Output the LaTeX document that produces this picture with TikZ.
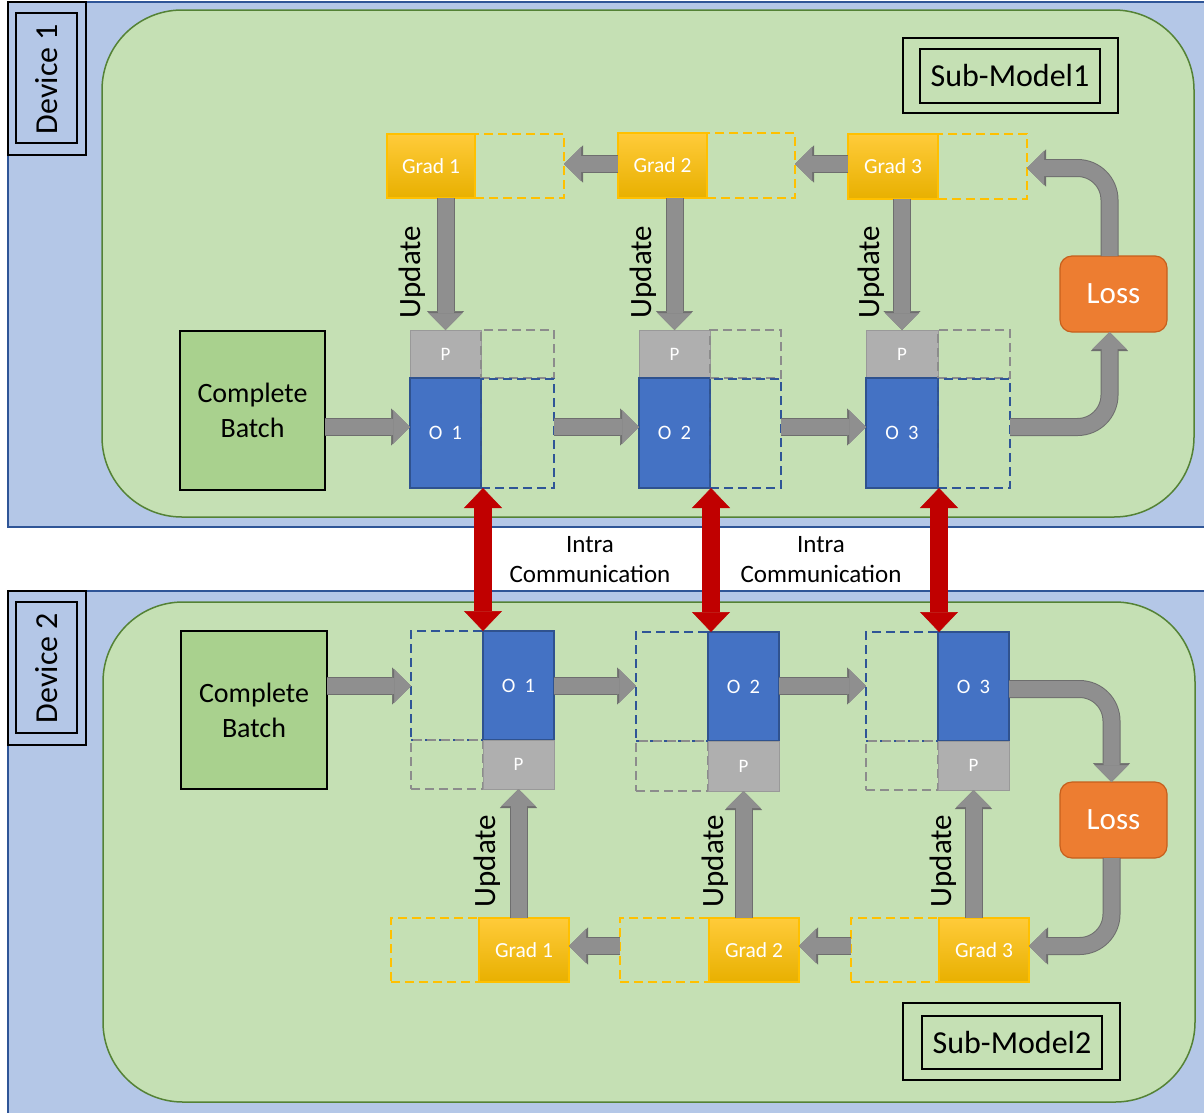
\documentclass[tikz,border=0pt]{standalone}
\usepackage{fontspec}
\setmainfont{Carlito}
\usetikzlibrary{arrows.meta,calc}
\definecolor{devbg}{HTML}{B4C7E7}
\definecolor{devline}{HTML}{2F5597}
\definecolor{subbg}{HTML}{C5E0B4}
\definecolor{subline}{HTML}{548235}
\definecolor{batchbg}{HTML}{A9D18E}
\definecolor{gold}{HTML}{FFC000}
\definecolor{goldtop}{HTML}{FFCB3A}
\definecolor{goldbot}{HTML}{E8B000}
\definecolor{pfill}{HTML}{AFAFAF}
\definecolor{pline}{HTML}{999999}
\definecolor{ofill}{HTML}{4472C4}
\definecolor{oline}{HTML}{2F528F}
\definecolor{gdash}{HTML}{8C8C8C}
\definecolor{arrowgray}{HTML}{8F8F8F}
\definecolor{arrowline}{HTML}{6E6E6E}
\definecolor{lossfill}{HTML}{ED7D31}
\definecolor{lossline}{HTML}{C65F1C}
\definecolor{redarrow}{HTML}{C00000}
\newcommand\bx[7]{\node[#6, minimum width={(#4-#2)*1pt}, minimum height={(#5-#3)*1pt}] (#1) at ({(#2+#4)/2},{(#3+#5)/2}) {#7};}
\tikzset{
  base/.style={inner sep=0pt, outer sep=0pt},
  labbox/.style={base, draw=black, line width=1.5pt},
  batchbox/.style={base, draw=black, fill=batchbg, line width=2.5pt, align=center, font=\fontsize{28}{35}\selectfont},
  gradbox/.style={base, draw=gold, line width=2pt, top color=goldtop, middle color=gold, bottom color=goldbot, text=white, font=\fontsize{21.5}{26}\selectfont},
  graddash/.style={base, draw=gold, line width=2pt, dash pattern=on 9pt off 5pt},
  pbox/.style={base, draw=pline, fill=pfill, line width=1pt, text=white, font=\fontsize{19}{23}\selectfont},
  obox/.style={base, draw=oline, fill=ofill, line width=1.5pt, text=white, font=\fontsize{20.5}{24}\selectfont},
  pdash/.style={base, draw=gdash, line width=2pt, dash pattern=on 9pt off 5pt},
  odash/.style={base, draw=devline, line width=2pt, dash pattern=on 9pt off 5pt},
  lossbox/.style={base, draw=lossline, fill=lossfill, line width=1.2pt, rounded corners=12pt, text=white, font=\fontsize{31}{37}\selectfont},
  garrow/.style={draw=arrowgray, line width=16pt, -{Triangle[length=17pt,width=34pt,line width=0.5pt]},
    preaction={draw=arrowline, line width=18pt, -{Triangle[length=19pt,width=37pt,line width=0.5pt]}}},
  rarrow/.style={draw=redarrow, line width=18pt, {Triangle[length=20pt,width=38pt,line width=0.5pt]}-{Triangle[length=20pt,width=38pt,line width=0.5pt]}},
  updlab/.style={rotate=90, inner sep=0pt, font=\fontsize{31}{37}\selectfont},
  devlab/.style={rotate=90, inner sep=0pt, font=\fontsize{32}{38}\selectfont},
  sublab/.style={inner sep=0pt, font=\fontsize{32}{38}\selectfont},
  commlab/.style={inner sep=0pt, align=center, font=\fontsize{25}{30}\selectfont}
}
\begin{document}
\begin{tikzpicture}[x=1pt,y=-1pt]
\useasboundingbox (0,0) rectangle (1204,1112);
\fill[white] (0,0) rectangle (1204,1112);
% device backgrounds
\filldraw[fill=devbg, draw=devline, line width=1.2pt] (8,2) rectangle (1220,527);
\filldraw[fill=devbg, draw=devline, line width=1.2pt] (8,591) rectangle (1220,1125);
% sub-model backgrounds
\filldraw[fill=subbg, draw=subline, line width=1.5pt, rounded corners=80pt] (102,10) rectangle (1194,517);
\filldraw[fill=subbg, draw=subline, line width=1.5pt, rounded corners=80pt] (103,602) rectangle (1195,1102);
% device labels
\bx{dev1o}{8}{2}{86}{155}{labbox}{}
\bx{dev1i}{16}{13}{77}{143}{labbox}{}
\node[devlab] (dev1t) at (47,79) {Device 1};
\bx{dev2o}{8}{591}{86}{745}{labbox}{}
\bx{dev2i}{16}{602}{77}{733}{labbox}{}
\node[devlab] (dev2t) at (47,668) {Device 2};
% sub-model labels
\bx{sm1o}{903}{38}{1118}{113}{labbox}{}
\bx{sm1i}{920}{49}{1100}{103}{labbox, sublab}{Sub-Model1}
\bx{sm2o}{903}{1003}{1120}{1080}{labbox}{}
\bx{sm2i}{922}{1016}{1102}{1069}{labbox, sublab}{Sub-Model2}
% batches
\bx{batch1}{180}{331}{325}{490}{batchbox}{Complete\\Batch}
\bx{batch2}{181}{631}{327}{789}{batchbox}{Complete\\Batch}
% ---------- top row ----------
\bx{g1d}{475}{134}{564}{198}{graddash}{}
\bx{g2d}{707}{133}{795}{198}{graddash}{}
\bx{g3d}{938}{134}{1027}{199}{graddash}{}
\bx{g1}{387}{134}{475}{198}{gradbox}{Grad 1}
\bx{g2}{618}{133}{707}{198}{gradbox}{Grad 2}
\bx{g3}{848}{134}{938}{199}{gradbox}{Grad 3}
\bx{p1}{410}{330}{481}{378}{pbox}{P}
\bx{o1}{410}{378}{481}{488}{obox}{O\hspace{0.45em}1}
\bx{p2}{639}{330}{710}{378}{pbox}{P}
\bx{o2}{639}{378}{710}{488}{obox}{O\hspace{0.45em}2}
\bx{p3}{866}{330}{938}{378}{pbox}{P}
\bx{o3}{866}{378}{938}{488}{obox}{O\hspace{0.45em}3}
\bx{p1d}{481}{330}{554}{378}{pdash}{}
\bx{o1d}{481}{379}{554}{488}{odash}{}
\bx{p2d}{710}{330}{781}{378}{pdash}{}
\bx{o2d}{710}{379}{781}{488}{odash}{}
\bx{p3d}{938}{330}{1010}{378}{pdash}{}
\bx{o3d}{938}{379}{1010}{488}{odash}{}
\bx{loss1}{1060}{256}{1167}{332}{lossbox}{Loss}
% ---------- bottom row ----------
\bx{bo1d}{411}{631}{483}{740}{odash}{}
\bx{bp1d}{411}{740}{483}{789}{pdash}{}
\bx{bo2d}{636}{632}{708}{741}{odash}{}
\bx{bp2d}{636}{741}{708}{791}{pdash}{}
\bx{bo3d}{866}{632}{938}{741}{odash}{}
\bx{bp3d}{866}{741}{938}{790}{pdash}{}
\bx{bo1}{483}{631}{554}{740}{obox}{O\hspace{0.45em}1}
\bx{bp1}{483}{740}{554}{789}{pbox}{P}
\bx{bo2}{708}{632}{779}{741}{obox}{O\hspace{0.45em}2}
\bx{bp2}{708}{741}{779}{791}{pbox}{P}
\bx{bo3}{938}{632}{1009}{741}{obox}{O\hspace{0.45em}3}
\bx{bp3}{938}{741}{1009}{790}{pbox}{P}
\bx{bg1d}{391}{918}{479}{982}{graddash}{}
\bx{bg2d}{620}{918}{709}{982}{graddash}{}
\bx{bg3d}{851}{918}{939}{982}{graddash}{}
\bx{bg1}{479}{918}{569}{982}{gradbox}{Grad 1}
\bx{bg2}{709}{918}{799}{982}{gradbox}{Grad 2}
\bx{bg3}{939}{918}{1029}{982}{gradbox}{Grad 3}
\bx{loss2}{1060}{782}{1167}{858}{lossbox}{Loss}
% row coordinates
\coordinate (rowT) at (0,427);
\coordinate (rowG) at (0,164);
\coordinate (rowB) at (0,686);
\coordinate (rowBG) at (0,946);
% ---------- top arrows ----------
\draw[garrow] (batch1.east |- rowT) -- (o1.west |- rowT);
\draw[garrow] (o1d.east |- rowT) -- (o2.west |- rowT);
\draw[garrow] (o2d.east |- rowT) -- (o3.west |- rowT);
\draw[garrow, rounded corners=32pt] (o3d.east |- rowT) -| ([xshift=-4pt]loss1.south);
\draw[garrow, rounded corners=32pt] ([xshift=-4pt]loss1.north) |- (g3d.east |- 0,168);
\draw[garrow] (g2.west |- rowG) -- (g1d.east |- rowG);
\draw[garrow] (g3.west |- rowG) -- (g2d.east |- rowG);
\draw[garrow] (g1.south -| p1.north) -- (p1.north);
\draw[garrow] (g2.south -| p2.north) -- (p2.north);
\draw[garrow] (g3.south -| p3.north) -- (p3.north);
\node[updlab] (u1) at (412,272) {Update};
\node[updlab] (u2) at (643,272) {Update};
\node[updlab] (u3) at (871,272) {Update};
% ---------- bottom arrows ----------
\draw[garrow] (batch2.east |- rowB) -- (bo1d.west |- rowB);
\draw[garrow] (bo1.east |- rowB) -- (bo2d.west |- rowB);
\draw[garrow] (bo2.east |- rowB) -- (bo3d.west |- rowB);
\draw[garrow, rounded corners=32pt] (bo3.east |- 0,689) -| ([xshift=-2pt]loss2.north);
\draw[garrow, rounded corners=32pt] ([xshift=-2pt]loss2.south) |- (bg3.east |- rowBG);
\draw[garrow] (bg2d.west |- rowBG) -- (bg1.east |- rowBG);
\draw[garrow] (bg3d.west |- rowBG) -- (bg2.east |- rowBG);
\draw[garrow] (bg1.north -| bp1.south) -- (bp1.south);
\draw[garrow] (bg2.north -| bp2.south) -- (bp2.south);
\draw[garrow] (bg3.north -| bp3.south) -- (bp3.south);
\node[updlab] (u4) at (487,861) {Update};
\node[updlab] (u5) at (715,861) {Update};
\node[updlab] (u6) at (943,861) {Update};
% ---------- intra communication ----------
\draw[rarrow] ([xshift=2pt]o1.south east) -- ([xshift=2pt]o1.south east |- bo1.north);
\draw[rarrow] ([xshift=1pt]o2.south east) -- ([xshift=1pt]o2.south east |- bo2.north);
\draw[rarrow] ([xshift=1pt]o3.south east) -- ([xshift=1pt]o3.south east |- bo3.north);
\node[commlab] (c1) at (590,560) {Intra\\Communication};
\node[commlab] (c2) at (821,560) {Intra\\Communication};
\end{tikzpicture}
\end{document}
